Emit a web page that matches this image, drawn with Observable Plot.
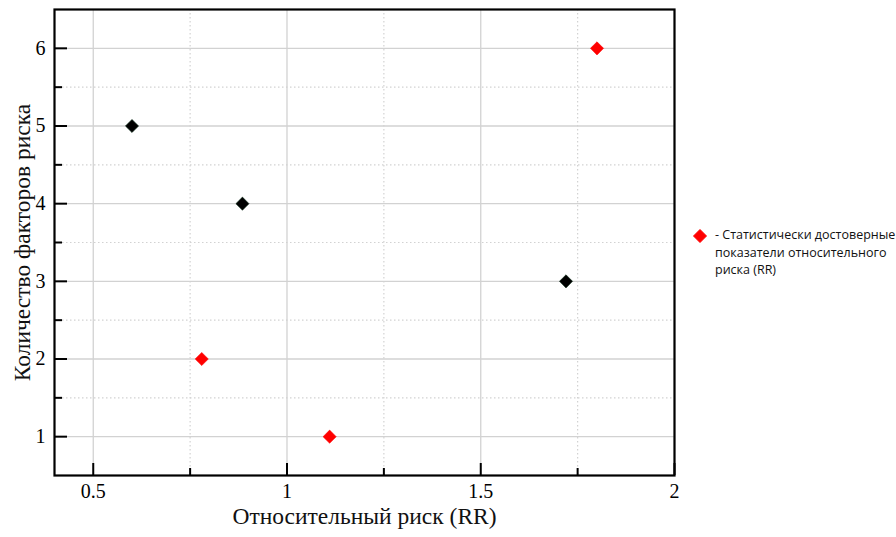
<!DOCTYPE html>
<html>
<head>
<meta charset="utf-8">
<script src="https://cdn.jsdelivr.net/npm/d3@7"></script>
<script src="https://cdn.jsdelivr.net/npm/@observablehq/plot@0.6"></script>
<style>
  html, body { margin: 0; padding: 0; background: #fff; }
  #wrap { position: relative; width: 896px; height: 537px; }
  #wrap svg g[aria-label$="tick label"] text { font-family: 'Liberation Serif', 'Times New Roman', serif; font-size: 20px; }
  #legend { position: absolute; left: 693px; top: 226px; font-family: "Open Sans", "Noto Sans", sans-serif; font-size: 12.5px; line-height: 17.5px; color: #111; display: flex; align-items: flex-start; }
  #legend svg { margin-top: 3px; margin-right: 8px; flex: none; }
</style>
</head>
<body>
<div id="wrap"></div>
<script>
// Data
const riskRatio = [0.6, 0.885, 1.72, 1.8, 0.78, 1.11];
const factorCount = [5, 4, 3, 6, 2, 1];
const significant = [false, false, false, true, true, true];

const xMajorTicks = [0.5, 1, 1.5, 2];
const xMinorTicks = [0.75, 1.25, 1.75];
const yMajorTicks = [1, 2, 3, 4, 5, 6];
const yMinorTicks = [1.5, 2.5, 3.5, 4.5, 5.5];

const xTitle = "Относительный риск (RR)";
const yTitle = "Количество факторов риска";
const legendLines = ["- Статистически достоверные", "показатели относительного", "риска (RR)"];

const points = riskRatio.map((rr, i) => ({rr, n: factorCount[i], sig: significant[i]}));

const serif = "'Liberation Serif', 'Times New Roman', serif";
const gridColor = "#d2d2d2";

const chart = Plot.plot({
  width: 896,
  height: 537,
  marginLeft: 54,
  marginRight: 222,
  marginTop: 9,
  marginBottom: 62,
  style: {fontFamily: serif, background: "white", fontSize: "20px"},
  x: {domain: [0.4, 2]},
  y: {domain: [0.5, 6.5]},
  marks: [
    Plot.ruleX(xMinorTicks, {stroke: gridColor, strokeWidth: 1.2, strokeDasharray: "1.5,2.5"}),
    Plot.ruleY(yMinorTicks, {stroke: gridColor, strokeWidth: 1.2, strokeDasharray: "1.5,2.5"}),
    Plot.ruleX(xMajorTicks, {stroke: gridColor, strokeWidth: 1.3}),
    Plot.ruleY(yMajorTicks, {stroke: gridColor, strokeWidth: 1.3}),
    Plot.axisX({ticks: xMajorTicks, tickSize: -12, tickPadding: 20, strokeWidth: 2, fontSize: 20, label: null, tickFormat: d => String(d)}),
    Plot.axisX({ticks: xMinorTicks, tickSize: -7, strokeWidth: 2, fill: "none", label: null}),
    Plot.axisY({ticks: yMajorTicks, tickSize: -13, tickPadding: 22, strokeWidth: 2, fontSize: 20, label: null, tickFormat: d => String(d)}),
    Plot.axisY({ticks: yMinorTicks, tickSize: -8, strokeWidth: 2, fill: "none", label: null}),
    Plot.frame({stroke: "black", strokeWidth: 2.2}),
    Plot.text([xTitle], {frameAnchor: "bottom", dy: 48, fontSize: 23.5, fontFamily: serif, fill: "#111"}),
    Plot.text([yTitle], {frameAnchor: "left", textAnchor: "middle", dx: -32, rotate: -90, fontSize: 23.5, fontFamily: serif, fill: "#111"}),
    Plot.dot(points, {x: "rr", y: "n", symbol: "diamond2", r: 5.9, fill: d => d.sig ? "#ff0000" : "#000000", stroke: d => d.sig ? "#ff0000" : "#062a14", strokeWidth: 0.6})
  ]
});

const wrap = document.getElementById("wrap");
wrap.appendChild(chart);

const legend = document.createElement("div");
legend.id = "legend";
legend.innerHTML = `<svg width="14" height="14" viewBox="-7 -7 14 14"><path d="M0,-6.5L6.5,0L0,6.5L-6.5,0Z" fill="#ff0000" stroke="#ff0000" stroke-linejoin="round" stroke-width="1"/></svg><div>${legendLines.join("<br>")}</div>`;
wrap.appendChild(legend);
</script>
</body>
</html>
